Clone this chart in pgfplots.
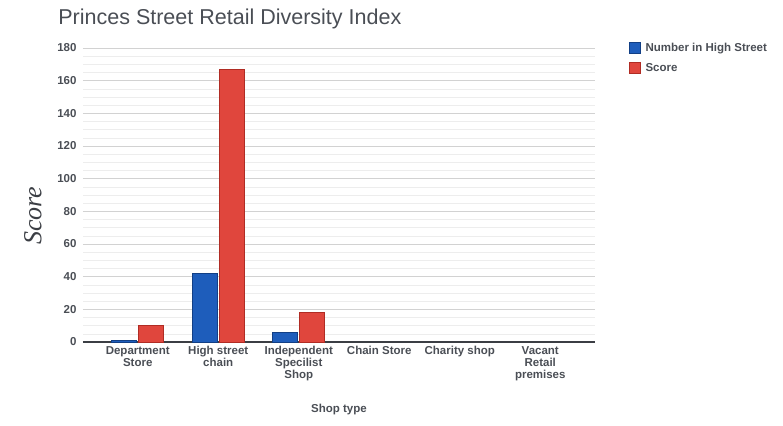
\documentclass[border=0pt]{standalone}
\usepackage{pgfplots}
\pgfplotsset{compat=1.18}
\usepackage{fontspec}
\setmainfont{Liberation Sans}
\newfontfamily\handfont{Liberation Serif}
\definecolor{cblue}{HTML}{1E5DBB}
\definecolor{cbluedark}{HTML}{123F85}
\definecolor{cred}{HTML}{E0463D}
\definecolor{creddark}{HTML}{B02C24}
\definecolor{txt}{HTML}{4A4E55}
\begin{document}
\begin{tikzpicture}
\useasboundingbox (-83pt,-83pt) rectangle (700pt,342pt);
\begin{axis}[
  at={(0pt,0pt)}, anchor=south west,
  width=512pt, height=294pt, scale only axis,
  /pgf/number format/assume math mode=true,
  ymin=0, ymax=180, ytick={0,20,...,180},
  minor y tick num=3,
  xmin=-0.68, xmax=5.68,
  xtick={0,1,2,3,4,5},
  xticklabels={{Department\\Store},{High street\\chain},{Independent\\Specilist\\Shop},{Chain Store},{Charity shop},{Vacant\\Retail\\premises}},
  ybar, bar width=25pt,
  axis x line*=bottom, axis y line*=left,
  y axis line style={draw=none},
  x axis line style={draw=txt!80!black, line width=1.2pt, -},
  major tick length=0pt, minor tick length=0pt,
  ymajorgrids, yminorgrids,
  major grid style={draw=gray!35, line width=0.6pt},
  minor grid style={draw=gray!14, line width=0.5pt},
  ticklabel style={font=\fontsize{11.5}{12}\selectfont\bfseries, text=txt},
  xticklabel style={align=center, yshift=-1pt},
  yticklabel style={xshift=-3pt},
  xlabel={Shop type},
  xlabel style={at={(axis description cs:0.5,-0.231)}, anchor=center, font=\fontsize{11.5}{12}\selectfont\bfseries, text=txt},
  ylabel={Score},
  ylabel style={at={(axis description cs:-0.098,0.43)}, anchor=center, font=\fontsize{26}{28}\selectfont\itshape\handfont, text=txt!80!black},
  legend style={at={(1.06,1.03)}, anchor=north west, draw=none, fill=none,
    font=\fontsize{11.5}{13}\selectfont\bfseries, text=txt, row sep=6pt,
    /tikz/every odd column/.append style={column sep=3pt}},
  legend cell align=left,
  legend image code/.code={\draw[#1, line width=0.6pt] (0pt,-5pt) rectangle (11pt,6pt);},
  clip=false,
]
\addplot[fill=cblue, draw=cbluedark, line width=0.6pt, bar shift=-13.5pt] coordinates {(0,1) (1,42) (2,6)};
\addlegendentry{Number in High Street}
\addplot[fill=cred, draw=creddark, line width=0.6pt, bar shift=13.5pt] coordinates {(0,10) (1,167) (2,18)};
\addlegendentry{Score}
\node[anchor=west, font=\fontsize{21.5}{24}\selectfont, text=txt] at (axis description cs:-0.055,1.10) {Princes Street Retail Diversity Index};
\end{axis}
\end{tikzpicture}
\end{document}
